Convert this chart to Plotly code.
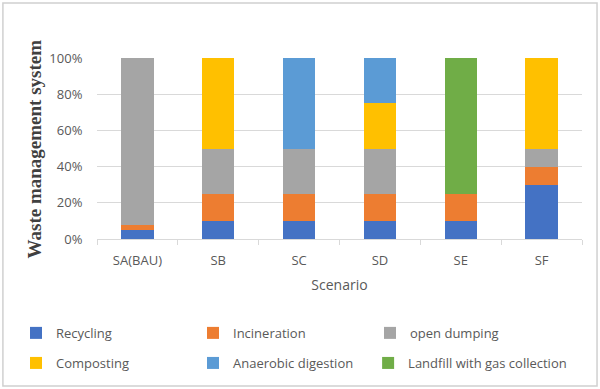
import plotly.graph_objects as go

scenarios = ["SA(BAU)", "SB", "SC", "SD", "SE", "SF"]
recycling = [5, 10, 10, 10, 10, 30]
incineration = [2.5, 15, 15, 15, 15, 10]
open_dumping = [92.5, 25, 25, 25, 0, 10]
composting = [0, 50, 0, 25, 0, 50]
anaerobic = [0, 0, 50, 25, 0, 0]
landfill = [0, 0, 0, 0, 75, 0]

series = [
    ("Recycling", recycling, "#4472C4", "legend"),
    ("Incineration", incineration, "#ED7D31", "legend"),
    ("open dumping", open_dumping, "#A5A5A5", "legend"),
    ("Composting", composting, "#FFC000", "legend2"),
    ("Anaerobic digestion", anaerobic, "#5B9BD5", "legend2"),
    ("Landfill with gas collection", landfill, "#70AD47", "legend3"),
]

fig = go.Figure()
for name, vals, col, lg in series:
    fig.add_trace(go.Bar(x=scenarios, y=vals, name=name, marker_color=col,
                         marker_line_width=0, legend=lg))

def leg(x, y, ew=132):
    return dict(orientation="h", font=dict(family="Open Sans", size=13, color="#595959"),
                entrywidth=ew, entrywidthmode="pixels", xanchor="left", yanchor="middle",
                bgcolor="rgba(0,0,0,0)", itemwidth=30, traceorder="normal", x=x, y=y)

fig.update_layout(
    width=600, height=389,
    margin=dict(l=97, r=18, t=58, b=150, autoexpand=False),
    paper_bgcolor="white", plot_bgcolor="white",
    barmode="stack", bargap=0.6,
    showlegend=True,
    legend=leg(-0.167, -0.519),
    legend2=leg(-0.167, -0.685),
    legend3=leg(0.559, -0.685, 0),
    font=dict(family="Open Sans", color="#595959", size=13),
    xaxis=dict(showline=True, linecolor="#d9d9d9", linewidth=1,
               ticks="outside", tickson="boundaries", ticklen=5, tickcolor="#d9d9d9",
               ticklabelstandoff=9,
               tickfont=dict(size=13, color="#595959"),
               title=dict(text="Scenario", font=dict(size=14, color="#595959"), standoff=12)),
    yaxis=dict(range=[0, 100], dtick=20, ticksuffix="%", showgrid=True, gridcolor="#d9d9d9",
               zeroline=False, tickfont=dict(size=13, color="#595959"), ticks="outside",
               ticklen=11, tickcolor="rgba(0,0,0,0)"),
    annotations=[dict(text="<b>Waste management system</b>", textangle=-90, showarrow=False,
                      xref="paper", yref="paper", x=-0.128, y=0.5, xanchor="center", yanchor="middle",
                      font=dict(family="Liberation Serif", size=19, color="#404040"))],
    shapes=[dict(type="rect", xref="paper", yref="paper", x0=-0.194, x1=1.031, y0=-0.812, y1=1.304,
                 line=dict(color="#d0d0d0", width=1.5), layer="below")],
)

fig.write_html("out.html", config={"displayModeBar": False},
               post_script="document.body.style.margin='0';")
